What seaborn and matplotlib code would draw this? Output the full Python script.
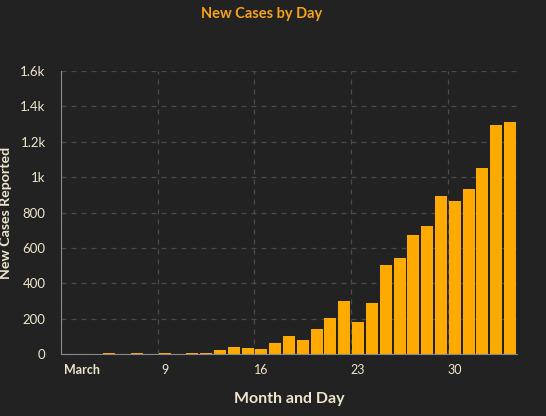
import matplotlib
matplotlib.use("Agg")
import matplotlib.pyplot as plt
import matplotlib.transforms as mtransforms
import seaborn as sb
import pandas as pd

# daily new cases, March 2 -> April 3
days = pd.date_range("2020-03-02", "2020-04-03", freq="D").strftime("%m-%d").tolist()
new_cases = [1, 1, 0, 3, 1, 8, 1, 7, 2, 8, 8, 25, 42, 36, 31, 64, 104,
             81, 143, 205, 300, 182, 288, 502, 541, 671, 722, 894, 866,
             934, 1052, 1293, 1314]
tick_days = ["03-02", "03-09", "03-16", "03-23", "03-30"]
tick_labels = ["March", "9", "16", "23", "30"]
ytick_vals = [0, 200, 400, 600, 800, 1000, 1200, 1400, 1600]
ytick_labels = ["0", "200", "400", "600", "800", "1k", "1.2k", "1.4k", "1.6k"]

bg = "#222222"
orange = "#FFAA00"
cream = "#EEE6CC"
gridc = "#4a4a4a"

sb.set_style("dark")
plt.rcParams["font.family"] = ["Lato", "DejaVu Sans"]

df = pd.DataFrame({"day": days, "cases": new_cases})

fig = plt.figure(figsize=(5.46, 4.16), dpi=100, facecolor=bg)
ax = fig.add_axes([61 / 546, 62 / 416, 456 / 546, 283 / 416])
ax.set_facecolor(bg)

sb.barplot(data=df, x="day", y="cases", color=orange, saturation=1,
           width=0.87, linewidth=0, edgecolor=orange, ax=ax, zorder=3)

ax.set_xlim(-0.5, len(days) - 0.5)
ax.set_ylim(0, 1600)

# week boundaries as dashed grid, labels centred on the day
pos = [days.index(d) for d in tick_days]
ax.set_xticks([p - 0.5 for p in pos])
ax.set_xticklabels([])
ax.set_xticks(pos, minor=True)
ax.set_xticklabels(tick_labels, minor=True)
ax.tick_params(axis="x", which="major", length=5, color=gridc, width=1)
ax.tick_params(axis="x", which="minor", length=0, pad=7, labelsize=9, labelcolor=cream)
first = ax.get_xticklabels(minor=True)[0]
first.set_fontweight("bold")
first.set_transform(first.get_transform() + mtransforms.ScaledTranslation(0.14, 0, fig.dpi_scale_trans))

ax.set_yticks(ytick_vals)
ax.set_yticklabels(ytick_labels)
ax.tick_params(axis="y", length=5, color=gridc, width=1, pad=6, labelsize=9.5, labelcolor=cream)

ax.grid(True, axis="both", which="major", color=gridc, linestyle=(0, (4, 4)), linewidth=0.9, zorder=0)

for s in ["top", "right"]:
    ax.spines[s].set_visible(False)
ax.spines["left"].set_color("#8a8a8a")
ax.spines["bottom"].set_color("#8a8a8a")
ax.spines["left"].set_zorder(4)
ax.spines["bottom"].set_zorder(4)

ax.set_xlabel("Month and Day", color=cream, fontsize=11.5, fontweight="bold", labelpad=12)
ax.set_ylabel("New Cases Reported", color=cream, fontsize=10.2, fontweight="bold")
ax.yaxis.set_label_coords(-49 / 456, 0.5)

fig.text(262 / 546, 1 - 14 / 416, "New Cases by Day", color="#F5A31A",
         fontsize=10.5, fontweight="bold", ha="center", va="center")

fig.savefig("out.png", dpi=100, facecolor=bg)
